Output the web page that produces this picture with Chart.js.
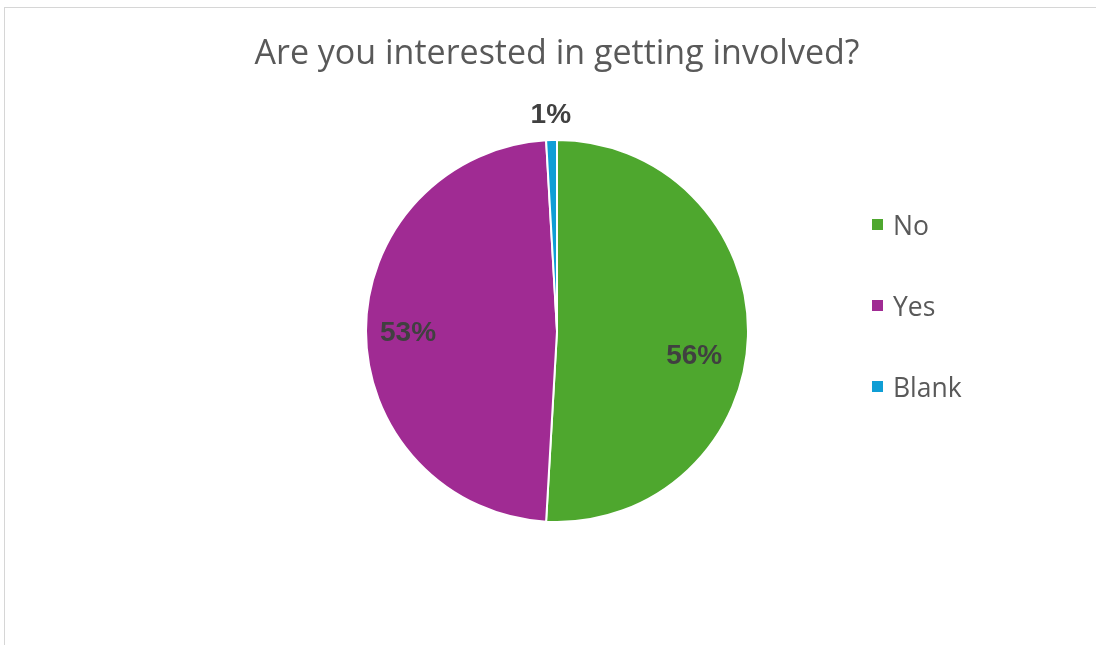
<!DOCTYPE html>
<html>
<head>
<meta charset="utf-8">
<script src="https://cdn.jsdelivr.net/npm/chart.js@4"></script>
<style>
  body { margin: 0; background: #fff; }
  #frame { position: absolute; left: 4px; top: 7px; right: -2px; bottom: -2px;
           border-top: 1px solid #d6d6d6; border-left: 1px solid #d6d6d6; }
  #myChart { position: absolute; left: 0; top: 0; }
  #legend { position: absolute; left: 872px; top: 184px; font-family: 'Open Sans', sans-serif;
            font-size: 26.5px; color: #595959; }
  #legend .item { display: flex; align-items: center; height: 81px; }
  #legend .box { width: 11px; height: 11px; margin-right: 10px; }
</style>
</head>
<body>
<div id="frame"></div>
<canvas id="myChart" width="1096" height="645"></canvas>
<div id="legend"></div>
<script>
var labels = ['No', 'Yes', 'Blank'];
var values = [56, 53, 1];
var colors = ['#4EA72E', '#A02B93', '#0F9ED5'];

// where each percentage sits: share of radius, and a small turn in degrees
var labelRadius = [0.73, 0.78, 1.13];
var labelTurn = [8.7, -1, 0];

var pieLabels = {
    id: 'pieLabels',
    afterDatasetsDraw: function(chart) {
        var ctx = chart.ctx;
        var meta = chart.getDatasetMeta(0);
        ctx.save();
        ctx.font = 'bold 28px "Liberation Sans", Arial, sans-serif';
        ctx.fillStyle = '#404040';
        ctx.textAlign = 'center';
        ctx.textBaseline = 'middle';
        meta.data.forEach(function(arc, i) {
            var p = arc.getProps(['x', 'y', 'startAngle', 'endAngle', 'outerRadius'], true);
            var mid = (p.startAngle + p.endAngle) / 2 + labelTurn[i] * Math.PI / 180;
            var r = p.outerRadius * labelRadius[i];
            ctx.fillText(chart.data.datasets[0].data[i] + '%', p.x + Math.cos(mid) * r, p.y + Math.sin(mid) * r);
        });
        ctx.restore();
    }
};

var ctx = document.getElementById('myChart').getContext('2d');
var chart = new Chart(ctx, {
    type: 'pie',
    data: {
        labels: labels,
        datasets: [{
            data: values,
            backgroundColor: colors,
            borderColor: '#ffffff',
            borderWidth: 2,
            hoverOffset: 0
        }]
    },
    options: {
        responsive: false,
        animation: false,
        layout: { padding: { top: 0, bottom: 122, left: 18, right: 0 } },
        plugins: {
            legend: { display: false },
            tooltip: { enabled: false },
            title: {
                display: true,
                text: 'Are you interested in getting involved?',
                color: '#595959',
                font: { family: "'Open Sans', sans-serif", size: 34, weight: 'normal', lineHeight: 1.2 },
                padding: { top: 34, bottom: 64.2 }
            }
        }
    },
    plugins: [pieLabels]
});

// legend built from the chart's own data
var legend = document.getElementById('legend');
chart.data.labels.forEach(function(lab, i) {
    var item = document.createElement('div');
    item.className = 'item';
    var box = document.createElement('span');
    box.className = 'box';
    box.style.background = chart.data.datasets[0].backgroundColor[i];
    var txt = document.createElement('span');
    txt.textContent = lab;
    item.appendChild(box);
    item.appendChild(txt);
    legend.appendChild(item);
});
</script>
</body>
</html>
